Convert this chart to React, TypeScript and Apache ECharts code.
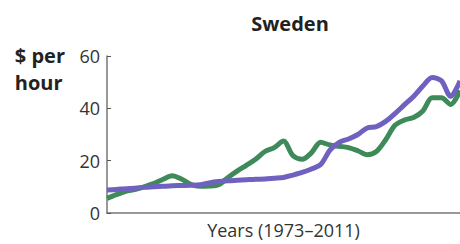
import React, { useEffect, useRef } from "react";
import * as echarts from "echarts";

const years: string[] = [];
for (let y = 1973; y <= 2011; y++) years.push(String(y));

const greenSeries = [
  5.6, 7, 8.3, 9, 10, 11.2, 12.8, 14.2, 13, 11, 10.2, 10.3, 10.8, 13.5, 16, 18.2,
  20.5, 23.5, 25, 27.5, 22, 20.5, 23, 27, 26, 25.5, 25, 23.8, 22.3, 23.5, 28,
  33.5, 35.5, 36.5, 39, 44, 44, 41.5, 46.8,
];
const purpleSeries = [
  8.8, 9, 9.3, 9.5, 9.8, 10, 10.2, 10.4, 10.5, 10.6, 10.8, 11.5, 12, 12.3, 12.5,
  12.7, 12.9, 13, 13.3, 13.6, 14.5, 15.5, 16.8, 18.5, 24, 27, 28.3, 30, 32.5, 33,
  35, 38, 41.3, 44.5, 48.5, 51.8, 50.5, 44.5, 50.5,
];

const FONT = "'Open Sans', 'Noto Sans', sans-serif";

export default function App() {
  const ref = useRef<HTMLDivElement>(null);
  useEffect(() => {
    const chart = echarts.init(ref.current!, null, { renderer: "svg" });
    chart.setOption({
      animation: false,
      backgroundColor: "#ffffff",
      title: {
        text: "Sweden",
        left: 285,
        top: 8,
        textAlign: "center",
        textStyle: { fontFamily: FONT, fontSize: 20, fontWeight: "bold", color: "#222" },
      },
      graphic: [
        {
          type: "text",
          right: 395,
          top: 42,
          style: {
            text: "$ per\nhour",
            fontFamily: FONT,
            fontSize: 20,
            fontWeight: "bold",
            fill: "#222",
            lineHeight: 27,
            align: "right",
          },
        },
      ],
      grid: { left: 107, right: 0, top: 56, bottom: 29, containLabel: false },
      xAxis: {
        type: "category",
        data: years,
        boundaryGap: false,
        axisLine: { show: true, lineStyle: { color: "#777", width: 1.5 } },
        axisTick: { show: false },
        axisLabel: { show: false },
        name: "Years (1973\u20132011)",
        nameLocation: "middle",
        nameGap: 8,
        nameTextStyle: {
          fontFamily: FONT,
          fontSize: 18,
          color: "#333",
          verticalAlign: "top",
        },
      },
      yAxis: {
        type: "value",
        min: 0,
        max: 60,
        interval: 20,
        splitLine: { show: false },
        axisLine: { show: true, lineStyle: { color: "#777", width: 1.5 } },
        axisTick: { show: true, inside: true, length: 4, lineStyle: { color: "#555" } },
        axisLabel: { fontFamily: FONT, fontSize: 18, color: "#333", margin: 7 },
      },
      series: [
        {
          type: "line",
          data: greenSeries,
          smooth: 0.3,
          symbol: "none",
          lineStyle: { color: "#3e8a58", width: 5 },
        },
        {
          type: "line",
          data: purpleSeries,
          smooth: 0.3,
          symbol: "none",
          lineStyle: { color: "#6f61bf", width: 5 },
        },
      ],
    });
    return () => chart.dispose();
  }, []);
  return (
    <div
      ref={ref}
      style={{ position: "fixed", left: 0, top: 0, width: 460, height: 244 }}
    />
  );
}
